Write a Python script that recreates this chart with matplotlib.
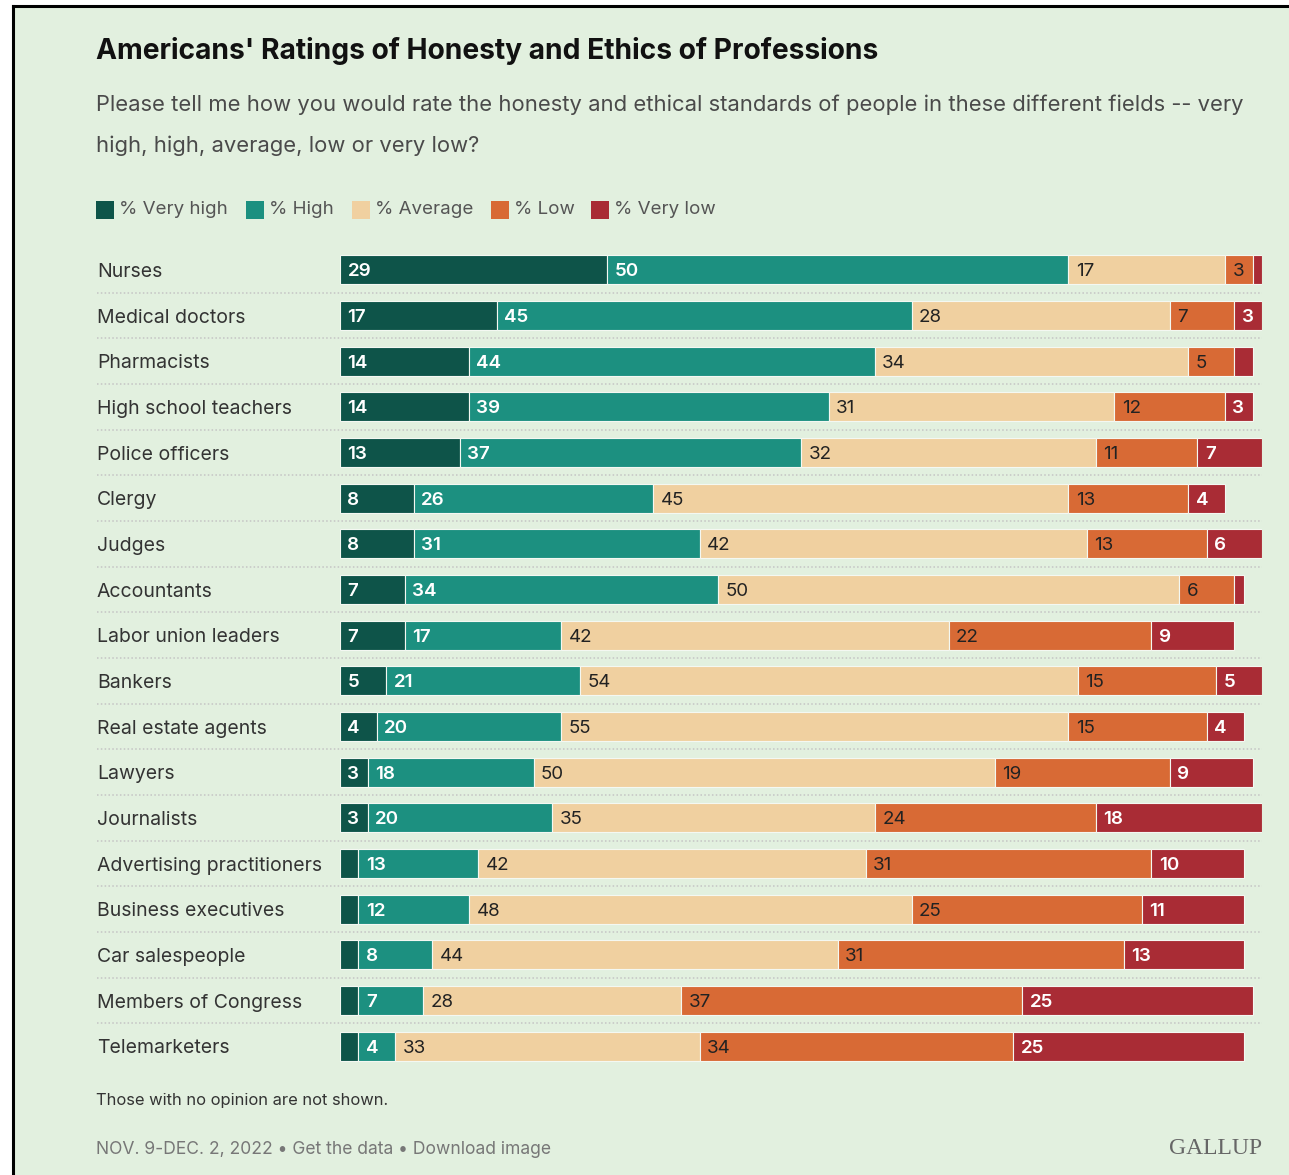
import matplotlib.pyplot as plt
from matplotlib.patches import Rectangle
from matplotlib.transforms import blended_transform_factory

plt.rcParams['font.family'] = ['Inter', 'DejaVu Sans']

professions = ["Nurses", "Medical doctors", "Pharmacists", "High school teachers",
               "Police officers", "Clergy", "Judges", "Accountants",
               "Labor union leaders", "Bankers", "Real estate agents", "Lawyers",
               "Journalists", "Advertising practitioners", "Business executives",
               "Car salespeople", "Members of Congress", "Telemarketers"]
very_high = [29, 17, 14, 14, 13, 8, 8, 7, 7, 5, 4, 3, 3, 2, 2, 2, 2, 2]
high = [50, 45, 44, 39, 37, 26, 31, 34, 17, 21, 20, 18, 20, 13, 12, 8, 7, 4]
average = [17, 28, 34, 31, 32, 45, 42, 50, 42, 54, 55, 50, 35, 42, 48, 44, 28, 33]
low = [3, 7, 5, 12, 11, 13, 13, 6, 22, 15, 15, 19, 24, 31, 25, 31, 37, 34]
very_low = [1, 3, 2, 3, 7, 4, 6, 1, 9, 5, 4, 9, 18, 10, 11, 13, 25, 25]

series = [very_high, high, average, low, very_low]
names = ["% Very high", "% High", "% Average", "% Low", "% Very low"]
colors = ["#0e5449", "#1c9080", "#f0d0a0", "#d86a35", "#a92c35"]
text_colors = ["white", "white", "#222222", "#222222", "white"]

W, H = 1289, 1175
bg = "#e2f0df"
fig = plt.figure(figsize=(W / 100, H / 100), dpi=100)
fig.patch.set_facecolor("white")

# panel with black frame on top and left
fig.patches.append(Rectangle((13 / W, 0), 1 - 13 / W, 1 - 6 / H, transform=fig.transFigure,
                             facecolor=bg, edgecolor="none", zorder=-5))
fig.add_artist(plt.Line2D([13 / W, 13 / W], [0, 1 - 6 / H], color="black", lw=2.2, transform=fig.transFigure))
fig.add_artist(plt.Line2D([13 / W, 1], [1 - 6 / H, 1 - 6 / H], color="black", lw=2.2, transform=fig.transFigure))

def fx(px):
    return px / W

def fy(py):
    return 1 - py / H

ax_left, ax_right, ax_top, ax_bot = 340, 1262, 247, 1069
ax = fig.add_axes([fx(ax_left), fy(ax_bot), fx(ax_right - ax_left), (ax_bot - ax_top) / H])
ax.set_facecolor("none")
ax.set_xlim(0, 100)
ax.set_ylim(len(professions) - 0.5, -0.5)
ax.axis("off")

ypos = list(range(len(professions)))
lefts = [0] * len(professions)
for vals, col, tcol in zip(series, colors, text_colors):
    ax.barh(ypos, vals, left=lefts, height=0.63, color=col, edgecolor="#f4f8f2", linewidth=0.8)
    for i, v in enumerate(vals):
        if v >= 3:
            ax.text(lefts[i] + 0.8, i, str(v), ha="left", va="center_baseline", fontsize=13.5,
                    color=tcol, fontweight="semibold" if tcol == "white" else "normal")
    lefts = [a + b for a, b in zip(lefts, vals)]

# category labels and dotted separators
tr = blended_transform_factory(fig.transFigure, ax.transData)
for i, name in enumerate(professions):
    fig.text(fx(97), 0, name, transform=tr, fontsize=14, color="#333333",
             ha="left", va="center_baseline").set_y(i)
for i in range(len(professions) - 1):
    ax.plot([fx(97), fx(1262)], [i + 0.5, i + 0.5], transform=tr, color="#c4c4c4",
            lw=1.1, ls=(0, (1, 1.5)), clip_on=False)

fig.text(fx(96), fy(51), "Americans' Ratings of Honesty and Ethics of Professions",
         fontsize=20.3, fontweight="bold", color="#111111", va="center")
fig.text(fx(96), fy(105), "Please tell me how you would rate the honesty and ethical standards "
         "of people in these different fields -- very", fontsize=15.85, color="#4a4a4a", va="center")
fig.text(fx(96), fy(146), "high, high, average, low or very low?", fontsize=15.85,
         color="#4a4a4a", va="center")

# legend
leg_x = [96, 246, 352, 491, 591]
for x, name, col in zip(leg_x, names, colors):
    fig.patches.append(Rectangle((fx(x), fy(219)), fx(18), 18 / H, transform=fig.transFigure,
                                 facecolor=col, edgecolor="none"))
    fig.text(fx(x + 23), fy(210), name, fontsize=13.5, color="#555555", va="center")

fig.text(fx(96), fy(1100), "Those with no opinion are not shown.", fontsize=11.9,
         color="#333333", va="center")
fig.text(fx(96), fy(1149), "NOV. 9-DEC. 2, 2022 \u2022 Get the data \u2022 Download image",
         fontsize=12.6, color="#777777", va="center")
fig.text(fx(1262), fy(1148), "GALLUP", fontsize=17, color="#666666", va="center", ha="right",
         family="Liberation Serif")

fig.savefig("out.png", dpi=100, facecolor=fig.get_facecolor())
